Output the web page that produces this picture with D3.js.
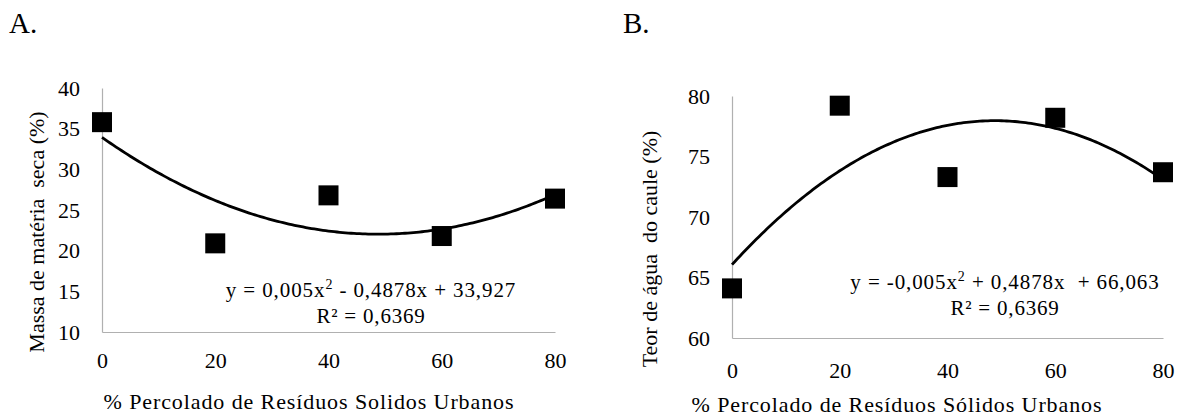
<!DOCTYPE html>
<html>
<head>
<meta charset="utf-8">
<script src="https://cdn.jsdelivr.net/npm/d3@7"></script>
<style>
  body { margin: 0; background: #fff; }
  svg text { font-family: "Liberation Serif", "Times New Roman", serif; fill: #000; white-space: pre; }
</style>
</head>
<body>
<div id="chart"></div>
<script>
// doses of leachate (x) and measured values
const doses = [0, 20, 40, 60, 80];
const massaSeca = [35.8, 20.9, 26.8, 21.8, 26.4];
const teorAgua = [64.1, 79.2, 73.3, 78.2, 73.7];
const xTicks = [0, 20, 40, 60, 80];
const yTicksA = [10, 15, 20, 25, 30, 35, 40];
const yTicksB = [60, 65, 70, 75, 80];
// trendline coefficients: c0 + c1*x + c2*x^2
const coefA = [33.927, -0.4878, 0.005];
const coefB = [66.063, 0.4878, -0.005];

const W = 1184, H = 417;
const svg = d3.select('#chart').append('svg').attr('width', W).attr('height', H);

function panel(opt) {
    const x = d3.scaleLinear().domain([0, 80]).range([opt.x0, opt.x1]);
    const y = d3.scaleLinear().domain(opt.yDomain).range([opt.yBottom, opt.yTop]);
    const g = svg.append('g');

    g.append('text').attr('x', opt.letterX).attr('y', 33).attr('font-size', 29).text(opt.letter);

    // axes (no ticks, light grey lines)
    const xAxis = d3.axisBottom(x).tickValues(xTicks).tickSize(0).tickPadding(opt.xPad);
    const yAxis = d3.axisLeft(y).tickValues(opt.yTicks).tickSize(0).tickPadding(22);
    const gx = g.append('g').attr('transform', `translate(0,${opt.yBottom})`).call(xAxis);
    const gy = g.append('g').attr('transform', `translate(${opt.x0},0)`).call(yAxis);
    [gx, gy].forEach(a => {
        a.select('.domain').attr('stroke', '#b0b0b0').attr('stroke-width', 1.2);
        a.selectAll('text').attr('font-size', 22).attr('font-family', '"Liberation Serif", serif');
    });

    // trendline
    const curve = d3.range(0, 80.5, 0.5).map(d => [d, opt.coef[0] + opt.coef[1] * d + opt.coef[2] * d * d]);
    g.append('path')
        .datum(curve)
        .attr('fill', 'none')
        .attr('stroke', '#000')
        .attr('stroke-width', 2.8)
        .attr('d', d3.line().x(d => x(d[0])).y(d => y(d[1])));

    // points
    const s = 20;
    g.selectAll('rect.pt')
        .data(doses.map((d, i) => [d, opt.values[i]]))
        .enter()
        .append('rect')
        .attr('class', 'pt')
        .attr('x', d => x(d[0]) - s / 2)
        .attr('y', d => y(d[1]) - s / 2)
        .attr('width', s)
        .attr('height', s)
        .attr('fill', '#000');

    // equation
    const eq = g.append('text').attr('x', opt.eqX).attr('y', opt.eqY).attr('font-size', 21)
        .attr('letter-spacing', 0.9).attr('text-anchor', 'middle');
    eq.append('tspan').text(opt.eq1);
    eq.append('tspan').attr('font-size', 14).attr('dy', -8).text('2');
    eq.append('tspan').attr('dy', 8).text(opt.eq2);
    g.append('text').attr('x', opt.eqX).attr('y', opt.eqY + 26).attr('font-size', 21)
        .attr('letter-spacing', 0.8).attr('text-anchor', 'middle').text('R² = 0,6369');

    // axis titles
    g.append('text').attr('x', opt.xTitleX).attr('y', opt.xTitleY).attr('font-size', 22)
        .attr('letter-spacing', 0.9).attr('text-anchor', 'middle').text(opt.xTitle);
    g.append('text')
        .attr('transform', `translate(${opt.yTitleX},${opt.yTitleY}) rotate(-90)`)
        .attr('font-size', 22)
        .attr('text-anchor', 'middle')
        .text(opt.yTitle);
}

panel({
    letter: 'A.', letterX: 9,
    x0: 102, x1: 555, yTop: 88, yBottom: 332,
    yDomain: [10, 40], yTicks: yTicksA, xPad: 20,
    values: massaSeca, coef: coefA,
    eq1: 'y = 0,005x', eq2: ' - 0,4878x + 33,927', eqX: 371, eqY: 297,
    xTitle: '% Percolado de Resíduos Solidos Urbanos', xTitleX: 309, xTitleY: 409,
    yTitle: 'Massa de matéria  seca (%)', yTitleX: 44, yTitleY: 232
});

panel({
    letter: 'B.', letterX: 623,
    x0: 732, x1: 1163, yTop: 96, yBottom: 338,
    yDomain: [60, 80], yTicks: yTicksB, xPad: 24,
    values: teorAgua, coef: coefB,
    eq1: 'y = -0,005x', eq2: ' + 0,4878x  + 66,063', eqX: 1005, eqY: 289,
    xTitle: '% Percolado de Resíduos Sólidos Urbanos', xTitleX: 897, xTitleY: 412,
    yTitle: 'Teor de água  do caule (%)', yTitleX: 657, yTitleY: 249
});
</script>
</body>
</html>
